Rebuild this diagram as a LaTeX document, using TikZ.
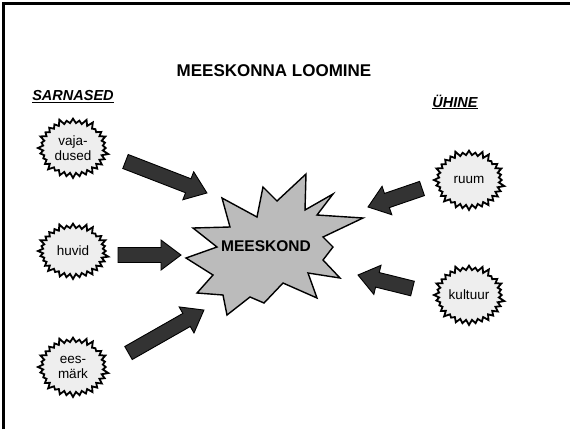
\documentclass[tikz,border=0pt]{standalone}
\usepackage{fontspec}
\setmainfont{Liberation Sans}
\usepackage{tikz}
\usetikzlibrary{calc,shapes.symbols}
\definecolor{helehall}{RGB}{238,238,238}
\definecolor{hall}{RGB}{187,187,187}
\definecolor{tumehall}{RGB}{51,51,51}

\newcommand{\plokknool}[2]{%
  \draw[nool] let \p1=($(#2)-(#1)$), \n1={atan2(\y1,\x1)}, \n2={veclen(\x1,\y1)} in
    [shift={(#1)},rotate=\n1] (0pt,-7.5pt) -- (\n2-20pt,-7.5pt) -- (\n2-20pt,-15pt) -- (\n2,0pt)
    -- (\n2-20pt,15pt) -- (\n2-20pt,7.5pt) -- (0pt,7.5pt) -- cycle;}

\begin{document}
\begin{tikzpicture}[x=1pt,y=-1pt,
mull/.style={starburst,starburst points=32,starburst point height=6pt,draw=black,line width=1.8pt,fill=helehall,minimum width=72pt,minimum height=62pt,inner sep=0pt,align=center,font=\fontsize{13.5}{15}\selectfont},
plahvatus/.style={draw=black,line width=1.4pt,fill=hall,line join=miter},
nool/.style={draw=black,line width=0.9pt,fill=tumehall,line join=miter},
pealkiri/.style={font=\fontsize{17}{20}\selectfont\bfseries},
rubriik/.style={font=\fontsize{14.5}{17}\selectfont\bfseries\itshape}
]
\useasboundingbox (0,0) rectangle (570,429);
\draw[line width=3pt] (3.5,429) -- (3.5,3.5) -- (570,3.5);

\node[pealkiri] (pealkiri) at (274,71) {MEESKONNA LOOMINE};
\node[rubriik] (sarnased) at (73,97) {\underline{SARNASED}};
\node[rubriik] (yhine) at (455,102) {\underline{ÜHINE}};

\node[mull] (vajadused) at (73,148) {vaja-\\dused};
\node[mull,minimum height=58pt] (huvid) at (73,251) {huvid};
\node[mull] (eesmark) at (73,367) {ees-\\märk};
\node[mull] (ruum) at (469,180) {ruum};
\node[mull] (kultuur) at (469,295) {kultuur};

\draw[plahvatus] (306,174) -- (277,201) -- (263,187) -- (257,217) -- (222,198) -- (230,227)
  -- (193,228) -- (217,247) -- (186,258) -- (213,275) -- (197,293) -- (223,295) -- (227,315)
  -- (250,297) -- (264,303) -- (283,283) -- (317,298) -- (308,273) -- (340,278) -- (323,260)
  -- (333,247) -- (323,237) -- (363,218) -- (317,215) -- (333,194) -- (305,210) -- cycle;
\node[font=\fontsize{15.5}{18}\selectfont\bfseries] (meeskond) at (266,246) {MEESKOND};

\coordinate (n1a) at (125.5,161.5); \coordinate (n1b) at (207,193);
\coordinate (n2a) at (118,255);     \coordinate (n2b) at (181,255);
\coordinate (n3a) at (128.5,353);   \coordinate (n3b) at (204,310);
\coordinate (n4a) at (422,188.5);   \coordinate (n4b) at (368,207);
\coordinate (n5a) at (412.5,288.5); \coordinate (n5b) at (358,275);
\plokknool{n1a}{n1b}
\plokknool{n2a}{n2b}
\plokknool{n3a}{n3b}
\plokknool{n4a}{n4b}
\plokknool{n5a}{n5b}
\end{tikzpicture}
\end{document}
